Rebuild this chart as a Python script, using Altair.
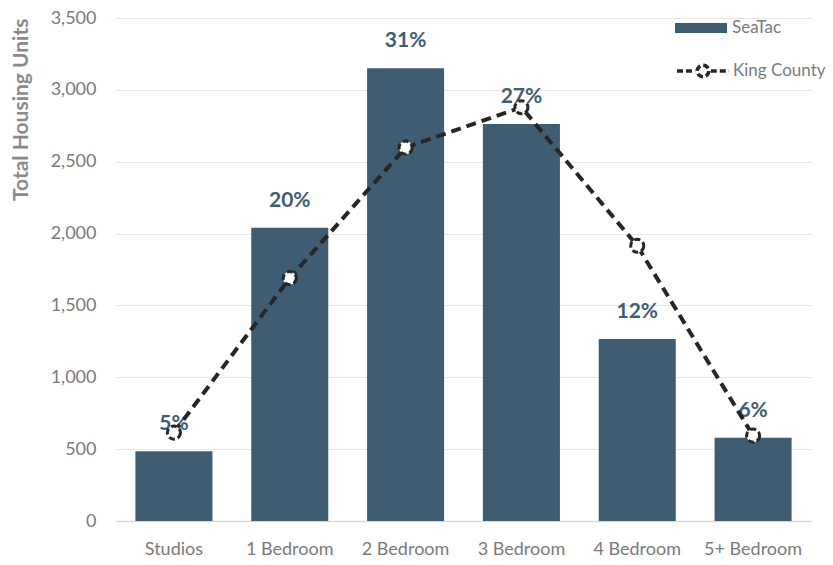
import altair as alt
import pandas as pd

categories = ["Studios", "1 Bedroom", "2 Bedroom", "3 Bedroom", "4 Bedroom", "5+ Bedroom"]
seatac_units = [485, 2040, 3150, 2762, 1266, 580]
king_county_units = [615, 1690, 2598, 2879, 1915, 594]
pct_labels = ["5%", "20%", "31%", "27%", "12%", "6%"]

df = pd.DataFrame({
    "category": categories,
    "seatac": seatac_units,
    "king": king_county_units,
    "pct": pct_labels,
    "s1": ["SeaTac"] * 6,
    "s2": ["King County"] * 6,
})

FONT = "Lato"
BAR = "#3f5d72"
LINE = "#262626"
GREY = "#7a7a7a"

x = alt.X("category:N", sort=categories, title=None,
          scale=alt.Scale(paddingInner=0.335, paddingOuter=0.1675),
          axis=alt.Axis(labelAngle=0, labelFontSize=18, labelColor=GREY,
                        labelFont=FONT, ticks=False, labelPadding=19,
                        domainColor="#d9d9d9", domainWidth=1.5))

y_axis = alt.Axis(values=[0, 500, 1000, 1500, 2000, 2500, 3000, 3500], format=",.0f",
                  labelFontSize=18, labelColor=GREY, labelFont=FONT,
                  ticks=False, domain=False, labelPadding=20,
                  gridColor="#e6e6e6", gridWidth=1,
                  title="Total Housing Units", titleFont=FONT, titleFontSize=21,
                  titleFontWeight="bold", titleColor="#8a8a8a",
                  titleAnchor="end", titlePadding=19)

bars = alt.Chart(df).mark_bar(color=BAR).encode(
    x=x,
    y=alt.Y("seatac:Q", scale=alt.Scale(domain=[0, 3500], nice=False), axis=y_axis),
    fill=alt.Fill("s1:N", scale=alt.Scale(domain=["SeaTac"], range=[BAR]),
                  legend=alt.Legend(title=None, orient="none", legendX=559, legendY=-16,
                                    symbolType="M-1,-0.19H1V0.19H-1Z", symbolSize=2704,
                                    symbolStrokeWidth=0, labelFontSize=17,
                                    labelColor=GREY, labelFont=FONT,
                                    labelOffset=5, padding=0)),
)

labels = alt.Chart(df).mark_text(
    font=FONT, fontSize=21, fontWeight="bold", color=BAR, baseline="middle", dy=-27
).encode(x=x, y=alt.Y("seatac:Q"), text="pct:N")

line = alt.Chart(df).mark_line(strokeWidth=4, strokeDash=[10, 6]).encode(
    x=x,
    y=alt.Y("king:Q"),
    stroke=alt.Stroke("s2:N", scale=alt.Scale(domain=["King County"], range=[LINE]),
                      legend=alt.Legend(title=None, orient="none", legendX=559, legendY=25,
                                        symbolType="M-1,0H-0.3M0.3,0H1M0.22,0A0.22,0.22 0 1,1 -0.22,0A0.22,0.22 0 1,1 0.22,0",
                                        symbolSize=2704, symbolStrokeWidth=3.5,
                                        symbolFillColor="white", symbolDash=[6, 3],
                                        labelFontSize=17, labelColor=GREY,
                                        labelFont=FONT, labelOffset=2, padding=0)),
)

points = alt.Chart(df).mark_point(
    shape="circle", filled=False, fill="white", fillOpacity=1, stroke=LINE,
    strokeWidth=3, strokeDash=[6, 3], size=170, opacity=1
).encode(x=x, y=alt.Y("king:Q"))

chart = alt.layer(bars, labels, line, points).properties(
    width=695, height=503,
    padding={"left": 116, "top": 18, "right": 22, "bottom": 44},
    autosize=alt.AutoSizeParams(type="none"),
    background="white",
).configure_view(stroke=None)

chart.save("out.html", embed_options={"renderer": "svg", "actions": False})
